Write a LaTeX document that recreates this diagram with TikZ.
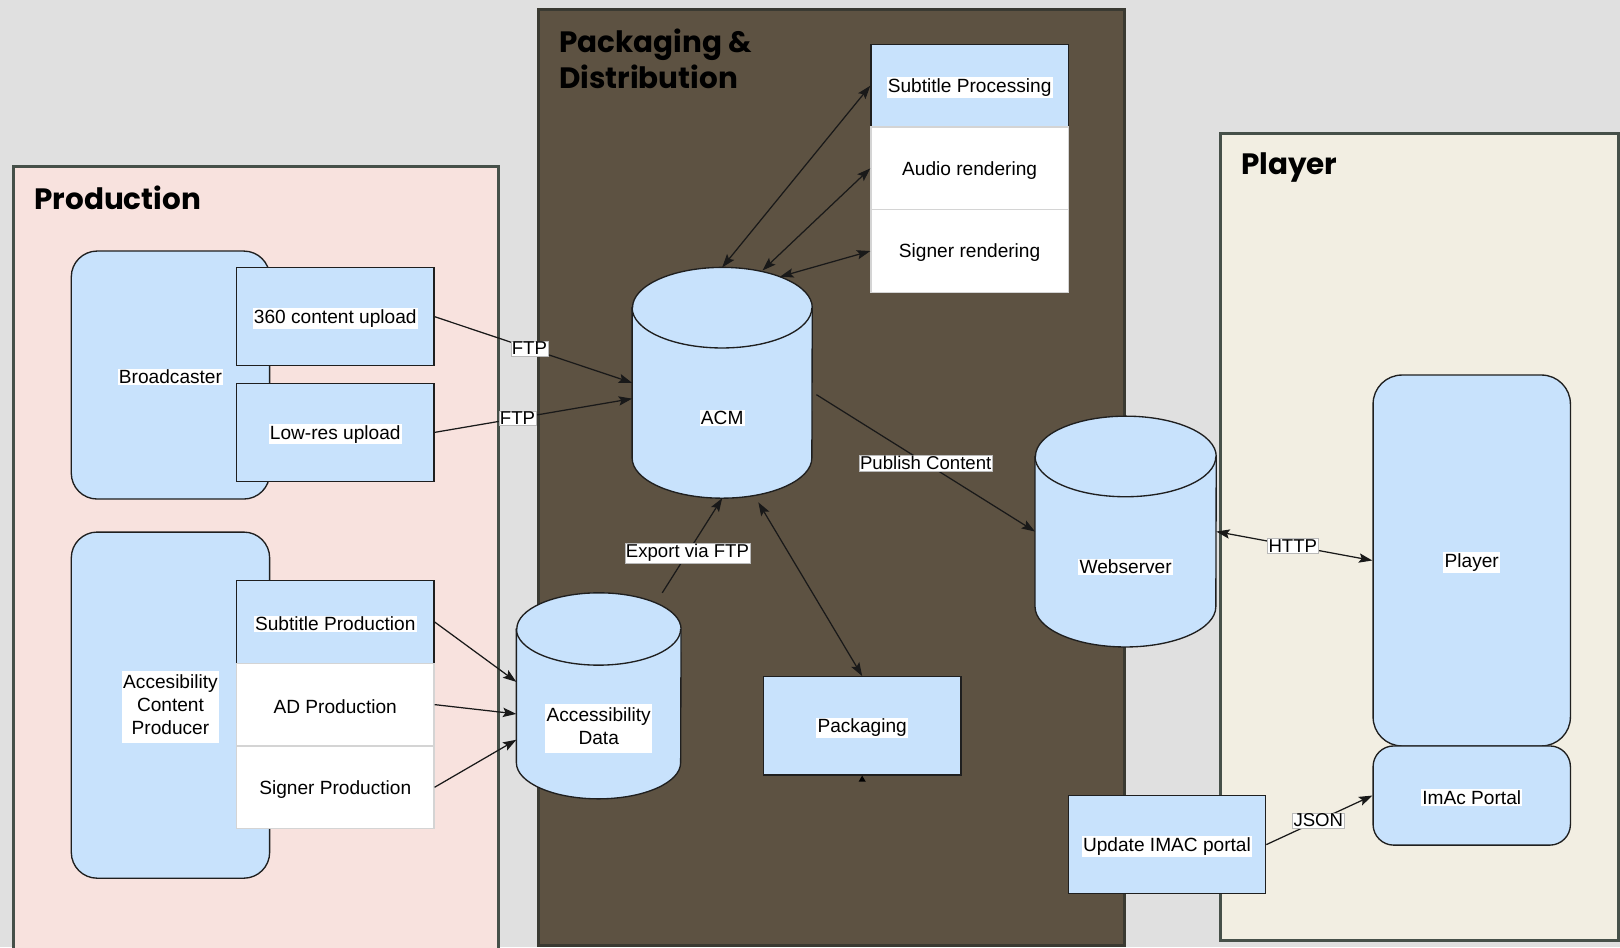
\documentclass[tikz,border=0pt]{standalone}
\usepackage{fontspec}
\setmainfont{Liberation Sans}
\newfontfamily\titlefamily{Poppins}
\usetikzlibrary{arrows.meta,calc}

\definecolor{pagegray}{HTML}{E0E0E0}
\definecolor{prodfill}{HTML}{F8E2DE}
\definecolor{pkgfill}{HTML}{5D5242}
\definecolor{playfill}{HTML}{F2EEE2}
\definecolor{groupline}{HTML}{465049}
\definecolor{pkgline}{HTML}{3A3A32}
\definecolor{nodeblue}{HTML}{C8E2FC}
\definecolor{cellline}{HTML}{D4D4D4}

\newcommand\nfont{\fontsize{18.5}{22.5}\selectfont}
\newcommand\efont{\fontsize{18}{20}\selectfont}
\newcommand\tfont{\titlefamily\bfseries\fontsize{28.5}{35}\selectfont}
% label text sits a little below the optical centre of its box
\newcommand\nudge[1]{\raisebox{-1.8pt}[\height][\depth]{#1}}
\newcommand\wbg[1]{\nudge{{\setlength{\fboxsep}{1.2pt}\colorbox{white}{#1}}}}
\newcommand\wbgm[1]{\nudge{{\setlength{\fboxsep}{1.2pt}\colorbox{white}{\begin{tabular}{@{}c@{}}#1\end{tabular}}}}}

% database drum drawn over the named area node #1, end ellipse radii #2 and #3
\newcommand\drum[3]{%
  \filldraw[drumline]
    ($(#1.north west)+(0,#3)$) -- ($(#1.south west)+(0,-#3)$)
    arc[start angle=180, end angle=360, x radius=#2pt, y radius=#3pt]
    -- ($(#1.north east)+(0,#3)$)
    arc[start angle=0, end angle=180, x radius=#2pt, y radius=#3pt] -- cycle;
  \draw[drumline, fill=none]
    ($(#1.north west)+(0,#3)$)
    arc[start angle=180, end angle=360, x radius=#2pt, y radius=#3pt];
}

\begin{document}
\begin{tikzpicture}[x=1pt,y=-1pt,
  group/.style={line width=2.6pt, inner sep=0pt, anchor=north west},
  box/.style={draw=black!88, line width=1.3pt, fill=nodeblue, inner sep=0pt,
    minimum width=191pt, minimum height=95pt, font=\nfont},
  cell/.style={box, minimum height=80pt},
  wcell/.style={cell, fill=white, draw=cellline},
  rbox/.style={box, rounded corners=25pt},
  area/.style={inner sep=0pt, font=\nfont},
  drumline/.style={draw=black!88, line width=1.3pt, fill=nodeblue},
  conn/.style={line width=1.2pt, draw=black!90, -{Stealth[length=13pt,width=9pt,inset=2.5pt]}},
  bconn/.style={line width=1.2pt, draw=black!90,
    {Stealth[length=13pt,width=9pt,inset=2.5pt]}-{Stealth[length=13pt,width=9pt,inset=2.5pt]}},
  elabel/.style={fill=white, draw=gray!55, line width=0.4pt, inner sep=1pt,
    font=\efont, text=black},
  title/.style={font=\tfont, anchor=north west, align=left, inner sep=0pt},
]
\useasboundingbox (0,0) rectangle (1568,917);
\clip (0,0) rectangle (1568,917);
\fill[pagegray] (0,0) rectangle (1568,917);

% swimlanes
\node[group, draw=groupline, fill=prodfill, minimum width=469pt, minimum height=770pt]
  (prod) at (12,160) {};
\node[group, draw=pkgline, fill=pkgfill, minimum width=567pt, minimum height=906pt]
  (pkg) at (520,8) {};
\node[group, draw=groupline, fill=playfill, minimum width=385pt, minimum height=781pt]
  (play) at (1180,128) {};

\node[title] (prodtitle) at (33,180) {Production};
\node[title] (pkgtitle) at (541,28) {Packaging \&\\Distribution};
\node[title] (playtitle) at (1201,148) {Player};

% production side
\node[rbox, minimum width=192pt, minimum height=240pt] (bcast) at (165,363) {\wbg{Broadcaster}};
\node[box] (up360) at (324.5,306.5) {\wbg{360 content upload}};
\node[box] (lowres) at (324.5,418.5) {\wbg{Low-res upload}};

\node[rbox, minimum width=192pt, minimum height=335pt] (acp) at (165,682.5)
  {\wbgm{Accesibility\\Content\\Producer}};
\node[cell] (subprod) at (324.5,602) {\wbg{Subtitle Production}};
\node[wcell] (adprod) at (324.5,682) {\nudge{AD Production}};
\node[wcell] (signprod) at (324.5,762) {\nudge{Signer Production}};

% packaging and distribution
\node[cell] (subproc) at (938.5,83) {\wbg{Subtitle Processing}};
\node[wcell] (audio) at (938.5,163) {\nudge{Audio rendering}};
\node[wcell] (signrend) at (938.5,243) {\nudge{Signer rendering}};

\node[area, minimum width=174pt, minimum height=223pt] (acm) at (699,370.5) {};
\drum{acm}{87}{39}
\node[area] (acmlbl) at ($(acm.center)+(0,32)$) {\wbg{ACM}};

\node[area, minimum width=159pt, minimum height=199pt] (accdata) at (579.5,673.5) {};
\drum{accdata}{79.5}{35}
\node[area] (accdatalbl) at ($(accdata.center)+(0,29.5)$) {\wbgm{Accessibility\\Data}};

\node[box] (pack) at (834.5,702.5) {\wbg{Packaging}};

\node[area, minimum width=175pt, minimum height=223pt] (web) at (1089.5,514.5) {};
\drum{web}{87.5}{39}
\node[area] (weblbl) at ($(web.center)+(0,32.5)$) {\wbg{Webserver}};

\node[box] (upd) at (1129.5,817.5) {\wbg{Update IMAC portal}};

% player side
\node[box, rounded corners=28pt, minimum height=359pt] (player) at (1424.5,542.5) {\wbg{Player}};
\node[box, rounded corners=20pt, minimum height=96pt] (imac) at (1424.5,770) {\wbg{ImAc Portal}};

% connectors
\draw[conn] (up360.east) -- node[elabel, pos=0.48] (ftpa) {FTP} (acm.west);
\draw[conn] (lowres.east) -- node[elabel, pos=0.42] (ftpb) {FTP} (acm.190);
\draw[bconn] (acm.north) -- (subproc.west);
\draw[bconn] ($(acm.north)+(39,3)$) -- (audio.west);
\draw[bconn] ($(acm.north)+(56,9)$) -- (signrend.west);
\draw[conn] (subprod.east) -- ($(accdata.west)+(0,-13.5)$);
\draw[conn] (adprod.east) -- ($(accdata.west)+(0,17.5)$);
\draw[conn] (signprod.east) -- ($(accdata.west)+(0,42.5)$);
\draw[conn] ($(accdata.north)+(61.5,0)$) -- node[elabel, pos=0.42] (exp) {Export via FTP} (acm.south);
\draw[bconn] ($(acm.south)+(35,4)$) -- (pack.north);
\draw[conn] ($(acm.east)+(4,11.5)$) -- node[elabel, pos=0.5] (pub) {Publish Content} (web.west);
\draw[bconn] (web.east) -- node[elabel, pos=0.49] (http) {HTTP} (player.west);
\draw[conn] (upd.east) -- node[elabel, pos=0.49] (json) {JSON} (imac.west);
\fill[black] (pack.south) -- ++(-3.5,6) -- ++(7,0) -- cycle;
\end{tikzpicture}
\end{document}
